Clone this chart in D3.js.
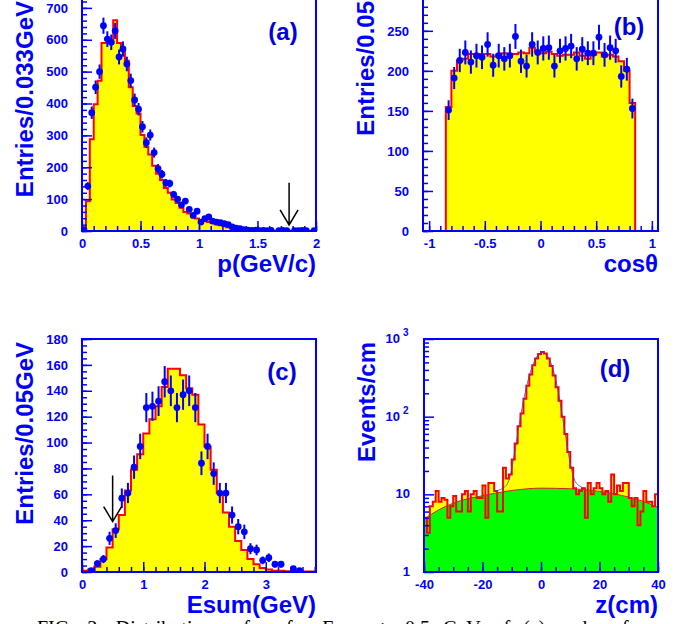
<!DOCTYPE html>
<html>
<head>
<meta charset="utf-8">
<script src="https://cdn.jsdelivr.net/npm/d3@7"></script>
<style>
body { margin: 0; background: #fff; }
svg text { font-family: "Liberation Sans", Arial, sans-serif; font-weight: bold; }
svg text.caption { font-family: "Liberation Serif", "Times New Roman", serif; font-weight: normal; }
</style>
</head>
<body>
<div id="chart"></div>
<script>
// (a) momentum, 60 bins of 0.033 GeV/c from 0 to 2
const pRange = [0, 2]
const pMC = [10, 93, 288, 398, 471, 590, 590, 590, 661, 590, 567, 534, 451, 392, 369, 301, 264, 240, 205, 180,
    160, 135, 120, 99, 88, 73, 60, 55, 44, 39, 34, 31, 28, 25, 21, 18, 15, 12, 9, 7,
    6, 5, 3, 2, 2, 1.5, 1, 1, 1, 1, 0.8, 0.6, 0.5, 0.5, 0.4, 0.3, 0.3, 0.2, 0.2, 0.2]
const pData = [4, 141, 371, 451, 500, 644, 602, 592, 628, 546, 571, 524, 472, 411, 382, 327, 277, 301, 246, 196,
    178, 151, 149, 115, 100, 82, 94, 68, 49, 62, 28, 39, 44, 31, 28, 26, 23, 20, 13, 9,
    7, 4, 3, 2, 3, 1, 2, 1, 2, 0, 1, 2, 1, 0, 1, 1, 2, 1, 0, 1]
const pXTicks = [0, 0.5, 1, 1.5, 2]
const pYTicks = [0, 100, 200, 300, 400, 500, 600, 700]
const pArrow = { x: 1.77, from: 151, to: 19 }

// (b) cos(theta), 34 bins of 0.05 from -0.85 to 0.85
const cRange = [-0.85, 0.85]
const cMC = [155, 200, 213, 215, 221, 221, 221, 221, 218, 220, 222, 221, 221, 223, 222, 229, 224,
    222, 224, 221, 219, 220, 220, 223, 219, 215, 220, 223, 218, 220, 218, 212, 200, 160]
const cData = [151, 191, 213, 223, 211, 219, 217, 233, 207, 219, 215, 219, 243, 212, 206, 233, 223,
    228, 229, 206, 225, 228, 231, 215, 227, 222, 222, 242, 220, 229, 225, 193, 202, 153]
const cXTicks = [-1, -0.5, 0, 0.5, 1]
const cYTicks = [0, 50, 100, 150, 200, 250]

// (c) Esum, 38 bins of 0.1 GeV from 0 to 3.8
const eRange = [0, 3.8]
const eMC = [1, 2, 4, 10, 19, 33, 44, 63, 79, 91, 107, 118, 128, 143, 157, 157, 152, 142, 137, 114,
    97, 79, 61, 46, 35, 24, 17, 10, 6, 3, 2, 1, 1, 0.5, 0.5, 0.3, 0.3, 0.3]
const eData = [null, 1, 6.5, 10, 26, 32, 57, 61, 81, 97, 127, 128, 132, 147, 140, 127, 137, 140, 127, 84,
    97, 76, 61, 61, 44, 35, 31, 18, 17, 9, 11, 6, 6, null, 2.5, 1, null, null]
const eXTicks = [0, 1, 2, 3]
const eYTicks = [0, 20, 40, 60, 80, 100, 120, 140, 160, 180]
const eArrow = { x: 0.5, from: 74.5, to: 39 }

// (d) z vertex, 80 bins of 1 cm from -40 to 40
const zRange = [-40, 40]
const zHist = [5, 3.2, 7, 8, 11, 8, 9, 8.5, 5, 7, 9.5, 6, 6, 10, 11, 6, 10, 11, 9, 9,
    13, 5, 14, 14, 11, 6, 6, 22, 16, 18, 28, 45, 75, 110, 170, 250, 350, 460, 560, 640,
    680, 650, 560, 450, 340, 240, 160, 100, 60, 35, 22, 12, 10, 11, 12, 5, 14, 10, 12, 14,
    12, 10, 11, 8, 18, 10, 13, 11, 14, 14, 9, 7, 9, 4, 6, 11, 8, 8, 7, 10]
const bgZ = [-40, -35, -30, -20, -10, 0, 10, 20, 30, 35, 40]
const bgVal = [4.8, 6.3, 7.7, 9.6, 11.2, 12.0, 11.8, 10.9, 9.2, 8.1, 6.8]
const fitZ = [-16, -13, -11, -9, -7, -5, -3, -1, 0.5, 2, 4, 6, 8, 10, 12, 15]
const fitVal = [11, 12, 15, 35, 100, 240, 440, 620, 665, 620, 420, 200, 70, 25, 14, 12]
const zXTicks = [-40, -20, 0, 20, 40]
const zYTicks = [1, 10, 100, 1000]

const BLUE = '#0000ff'

const svg = d3.create('svg')
    .attr('width', 688)
    .attr('height', 624)
    .attr('viewBox', [0, 0, 688, 624])

/* histogram outline points for curveStepAfter */
const stepPoints = (vals, range, base) => {
    const w = (range[1] - range[0]) / vals.length
    const pts = [[range[0], base]]
    vals.forEach((v, i) => pts.push([range[0] + i * w, v]))
    pts.push([range[1], vals[vals.length - 1]])
    pts.push([range[1], base])
    return pts
}

const makePanel = (cfg) => {
    const g = svg.append('g')
    const x = d3.scaleLinear().domain(cfg.xDomain).range([cfg.left, cfg.right])
    const y = (cfg.log ? d3.scaleLog() : d3.scaleLinear()).domain(cfg.yDomain).range([cfg.bottom, cfg.top])

    svg.append('clipPath').attr('id', 'clip-' + cfg.name)
        .append('rect')
        .attr('x', cfg.left).attr('y', cfg.top)
        .attr('width', cfg.right - cfg.left).attr('height', cfg.bottom - cfg.top)

    const plot = g.append('g').attr('clip-path', `url(#clip-${cfg.name})`)
    return { g, x, y, plot }
}

const drawHist = (panel, vals, range, base) => {
    const { x, y, plot } = panel
    const line = d3.line().x(d => x(d[0])).y(d => y(d[1])).curve(d3.curveStepAfter)
    const pts = stepPoints(vals, range, base)
    plot.append('path')
        .attr('d', line(pts))
        .attr('fill', '#ffff00')
        .attr('stroke', 'none')
    return () => plot.append('path')
        .attr('d', line(pts))
        .attr('fill', 'none')
        .attr('stroke', '#ff0000')
        .attr('stroke-width', 2)
}

const drawPoints = (panel, vals, range) => {
    const { x, y, plot } = panel
    const w = (range[1] - range[0]) / vals.length
    const pts = vals.map((v, i) => ({ c: range[0] + (i + 0.5) * w, v }))
        .filter(d => d.v !== null && d.v > 0)
    plot.selectAll(null)
        .data(pts)
        .enter()
        .append('line')
        .attr('x1', d => x(d.c)).attr('x2', d => x(d.c))
        .attr('y1', d => y(d.v + Math.sqrt(d.v)))
        .attr('y2', d => y(Math.max(0, d.v - Math.sqrt(d.v))))
        .attr('stroke', BLUE)
        .attr('stroke-width', 2)
    plot.selectAll(null)
        .data(pts)
        .enter()
        .append('circle')
        .attr('cx', d => x(d.c))
        .attr('cy', d => y(d.v))
        .attr('r', 3.4)
        .attr('fill', BLUE)
}

const drawArrow = (panel, a) => {
    const { x, y, g } = panel
    const ax = x(a.x), y0 = y(a.from), y1 = y(a.to)
    g.append('path')
        .attr('d', `M${ax},${y0}V${y1}M${ax - 9},${y1 - 15}L${ax},${y1}L${ax + 9},${y1 - 15}`)
        .attr('fill', 'none')
        .attr('stroke', '#000')
        .attr('stroke-width', 1.5)
}

const drawAxes = (panel, cfg) => {
    const { g, x, y } = panel
    const xg = g.append('g').attr('transform', `translate(0,${cfg.bottom})`)
    xg.append('g').call(d3.axisBottom(x).tickValues(cfg.xMinor).tickSize(-5).tickFormat(''))
    xg.append('g').call(d3.axisBottom(x).tickValues(cfg.xTicks).tickSize(-10).tickPadding(8)
        .tickFormat(d => String(d)))
    const yg = g.append('g').attr('transform', `translate(${cfg.left},0)`)
    yg.append('g').call(d3.axisLeft(y).tickValues(cfg.yMinor).tickSize(-5).tickFormat(''))
    yg.append('g').call(d3.axisLeft(y).tickValues(cfg.yTicks).tickSize(-10).tickPadding(14)
        .tickFormat(cfg.log ? () => '' : d => String(d)))

    g.selectAll('.domain').remove()
    g.selectAll('.tick line').attr('stroke', BLUE).attr('stroke-width', 1.5)
    g.selectAll('.tick text').attr('fill', BLUE).attr('font-size', 13)

    if (cfg.log) {
        const lab = yg.selectAll(null)
            .data(cfg.yTicks)
            .enter()
            .append('text')
            .attr('fill', BLUE)
            .attr('font-size', 13)
            .attr('y', d => y(d))
            .attr('dy', '0.32em')
        lab.filter(d => d < 100).attr('x', -14).attr('text-anchor', 'end').text(d => String(d))
        lab.filter(d => d >= 100).attr('x', -24).attr('text-anchor', 'end').text('10')
        yg.selectAll(null)
            .data(cfg.yTicks.filter(d => d >= 100))
            .enter()
            .append('text')
            .attr('fill', BLUE)
            .attr('font-size', 10)
            .attr('x', -21)
            .attr('y', d => y(d) - 3)
            .text(d => String(Math.round(Math.log10(d))))
    }

    // y title, right aligned at top of frame
    g.append('text')
        .attr('transform', `translate(${cfg.left - 49},${cfg.top + 3}) rotate(-90)`)
        .attr('text-anchor', 'end')
        .attr('fill', BLUE)
        .attr('font-size', 24)
        .text(cfg.yTitle)

    // x title, right aligned at frame end
    g.append('text')
        .attr('x', cfg.right)
        .attr('y', cfg.bottom + 41)
        .attr('text-anchor', 'end')
        .attr('fill', BLUE)
        .attr('font-size', 24)
        .text(cfg.xTitle)

    g.append('text')
        .attr('x', cfg.labelX)
        .attr('y', cfg.labelY)
        .attr('text-anchor', 'middle')
        .attr('fill', '#0000dd')
        .attr('font-size', 24)
        .text(cfg.label)

    g.append('rect')
        .attr('x', cfg.left).attr('y', cfg.top)
        .attr('width', cfg.right - cfg.left).attr('height', cfg.bottom - cfg.top)
        .attr('fill', 'none')
        .attr('stroke', BLUE)
        .attr('stroke-width', 2)
}

/* (a) */
const cfgA = {
    name: 'a', left: 82, right: 316, top: -2, bottom: 231,
    xDomain: [0, 2], yDomain: [0, 731],
    xTicks: pXTicks, xMinor: d3.range(0, 2.001, 0.1),
    yTicks: pYTicks, yMinor: d3.range(0, 731, 20),
    yTitle: 'Entries/0.033GeV', xTitle: 'p(GeV/c)',
    label: '(a)', labelX: 283, labelY: 40
}
const panelA = makePanel(cfgA)
const outlineA = drawHist(panelA, pMC, pRange, 0)
outlineA()
drawPoints(panelA, pData, pRange)
drawAxes(panelA, cfgA)
drawArrow(panelA, pArrow)

/* (b) */
const cfgB = {
    name: 'b', left: 423, right: 658, top: -2, bottom: 231,
    xDomain: [-1.055, 1.055], yDomain: [0, 291],
    xTicks: cXTicks, xMinor: d3.range(-1, 1.001, 0.1),
    yTicks: cYTicks, yMinor: d3.range(0, 291, 10),
    yTitle: 'Entries/0.05', xTitle: 'cos\u03b8',
    label: '(b)', labelX: 629, labelY: 35
}
const panelB = makePanel(cfgB)
const outlineB = drawHist(panelB, cMC, cRange, 0)
outlineB()
drawPoints(panelB, cData, cRange)
drawAxes(panelB, cfgB)

/* (c) */
const cfgC = {
    name: 'c', left: 82, right: 316, top: 339, bottom: 572,
    xDomain: [0, 3.82], yDomain: [0, 180],
    xTicks: eXTicks, xMinor: d3.range(0, 3.82, 0.2),
    yTicks: eYTicks, yMinor: d3.range(0, 181, 5),
    yTitle: 'Entries/0.05GeV', xTitle: 'Esum(GeV)',
    label: '(c)', labelX: 282, labelY: 380
}
const panelC = makePanel(cfgC)
const outlineC = drawHist(panelC, eMC, eRange, 0)
outlineC()
drawPoints(panelC, eData, eRange)
drawAxes(panelC, cfgC)
drawArrow(panelC, eArrow)

/* (d) */
const cfgD = {
    name: 'd', left: 424, right: 658, top: 339, bottom: 572, log: true,
    xDomain: [-40, 40], yDomain: [1, 1000],
    xTicks: zXTicks, xMinor: d3.range(-40, 41, 5),
    yTicks: zYTicks, yMinor: [1, 10, 100].flatMap(d => d3.range(2, 10).map(k => k * d)),
    yTitle: 'Events/cm', xTitle: 'z(cm)',
    label: '(d)', labelX: 615, labelY: 377
}
const panelD = makePanel(cfgD)
const outlineD = drawHist(panelD, zHist, zRange, 1)
const bgPts = bgZ.map((z, i) => [z, bgVal[i]])
panelD.plot.append('path')
    .attr('d', d3.area().x(d => panelD.x(d[0])).y0(panelD.y(1)).y1(d => panelD.y(d[1])).curve(d3.curveMonotoneX)(bgPts))
    .attr('fill', '#00ff00')
outlineD()
panelD.plot.append('path')
    .attr('d', d3.line().x(d => panelD.x(d[0])).y(d => panelD.y(d[1])).curve(d3.curveMonotoneX)(bgPts))
    .attr('fill', 'none')
    .attr('stroke', '#d02020')
    .attr('stroke-width', 1)
panelD.plot.append('path')
    .attr('d', d3.line().x(d => panelD.x(d)).y((d, i) => panelD.y(fitVal[i])).curve(d3.curveMonotoneX)(fitZ))
    .attr('fill', 'none')
    .attr('stroke', '#4040d0')
    .attr('stroke-width', 0.8)
drawAxes(panelD, cfgD)

/* caption, cut off at the bottom edge as in the source figure */
svg.append('text')
    .attr('class', 'caption')
    .attr('x', 37)
    .attr('y', 635)
    .attr('font-size', 20)
    .attr('fill', '#000')
    .attr('word-spacing', 8)
    .text('FIG. 3: Distributions of p for Esum > 0.5 GeV of (c) and z for')

document.getElementById('chart').appendChild(svg.node())
</script>
</body>
</html>
